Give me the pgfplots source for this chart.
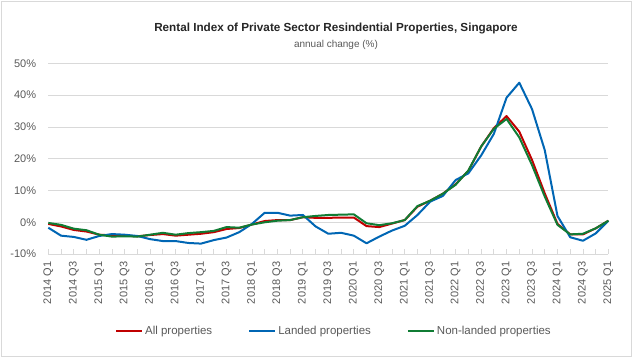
\documentclass[border=0pt]{standalone}
\usepackage{fontspec}
\setmainfont{Liberation Sans}
\usepackage{pgfplots}
\usepackage{pgfplotstable}
\pgfplotsset{compat=1.18}
\definecolor{cAll}{RGB}{192,0,0}
\definecolor{cLand}{RGB}{0,102,180}
\definecolor{cNon}{RGB}{16,124,52}
\definecolor{cGrid}{RGB}{217,217,217}
\definecolor{cText}{RGB}{89,89,89}

\pgfplotstableread{
i all landed non
0 -0.5 -1.7 -0.2
1 -1.3 -4.2 -0.8
2 -2.4 -4.6 -2.0
3 -2.9 -5.5 -2.5
4 -3.9 -4.3 -3.9
5 -4.1 -3.7 -4.5
6 -4.2 -3.9 -4.4
7 -4.4 -4.3 -4.5
8 -4.0 -5.3 -3.9
9 -3.7 -5.9 -3.3
10 -4.2 -5.9 -3.9
11 -3.9 -6.5 -3.4
12 -3.6 -6.7 -3.1
13 -3.1 -5.6 -2.7
14 -2.1 -4.8 -1.5
15 -1.8 -3.1 -1.7
16 -0.7 -0.5 -0.7
17 0.4 3.0 0.0
18 0.7 3.0 0.5
19 0.7 2.1 0.7
20 1.6 2.3 1.6
21 1.4 -1.3 2.0
22 1.4 -3.6 2.3
23 1.5 -3.3 2.4
24 1.5 -4.2 2.5
25 -1.2 -6.6 -0.3
26 -1.5 -4.5 -0.9
27 -0.4 -2.6 -0.3
28 0.7 -1.1 0.7
29 4.9 2.3 5.1
30 6.8 6.5 6.8
31 9.0 8.3 9.0
32 12.0 13.3 11.8
33 16.2 15.4 16.3
34 23.8 21.0 23.8
35 29.6 27.8 29.4
36 33.4 39.2 32.5
37 28.5 43.9 26.7
38 19.6 35.6 18.0
39 9.1 22.7 8.1
40 -0.5 2.0 -0.8
41 -3.8 -4.7 -3.8
42 -3.8 -5.8 -3.6
43 -1.9 -3.5 -1.9
44 0.5 0.5 0.5
}\rentdata

\begin{document}
\begin{tikzpicture}[x=1pt,y=1pt]
\useasboundingbox (0,0) rectangle (633,357);
\draw[cGrid, line width=0.8pt] (1,1) rectangle (631,356);
\node[font=\fontsize{11.7}{14}\selectfont\bfseries, text=black!85] at (336,328.3) {Rental Index of Private Sector Resindential Properties, Singapore};
\node[font=\fontsize{10}{12}\selectfont, text=cText] at (336,311.7) {annual change (\%)};
\begin{axis}[
  at={(48.3pt,102.9pt)}, anchor=south west,
  scale only axis, width=560.1pt, height=190.8pt,
  xmin=0, xmax=44, ymin=-10, ymax=50,
  clip=false,
  axis line style={draw=none},
  ytick={-10,0,10,20,30,40,50},
  ymajorgrids, grid style={cGrid, line width=0.8pt},
  ytick style={draw=none},
  yticklabel={\pgfmathprintnumber{\tick}\%},
  /pgf/number format/assume math mode=true,
  yticklabel style={anchor=east, inner sep=0pt, font=\fontsize{11}{12}\selectfont, text=cText},
  yticklabel shift=12pt,
  xtick={0,2,...,44},
  minor xtick={1,3,...,43},
  xtick pos=bottom,
  tick align=inside,
  major tick length=5pt, minor tick length=5pt,
  xtick style={cGrid, line width=0.8pt},
  minor tick style={cGrid, line width=0.8pt},
  xticklabels={2014 Q1,2014 Q3,2015 Q1,2015 Q3,2016 Q1,2016 Q3,2017 Q1,2017 Q3,2018 Q1,2018 Q3,2019 Q1,2019 Q3,2020 Q1,2020 Q3,2021 Q1,2021 Q3,2022 Q1,2022 Q3,2023 Q1,2023 Q3,2024 Q1,2024 Q3,2025 Q1},
  xticklabel style={rotate=90, anchor=east, inner sep=0pt, font=\fontsize{11}{12}\selectfont, text=cText},
  xticklabel shift=7.5pt,
  legend columns=3,
  legend style={at={(0.510,-0.403)}, anchor=center, draw=none, fill=none,
    font=\fontsize{11.5}{13}\selectfont, text=cText,
    /tikz/every even column/.append style={column sep=34pt}},
  legend image code/.code={\draw[#1, line width=2pt] (0pt,0pt) -- (26pt,0pt);},
  every axis plot/.append style={line width=2pt, line join=round},
]
\addplot[cAll, mark=none] table[x=i, y=all] {\rentdata};
\addlegendentry{All properties}
\addplot[cLand, mark=none] table[x=i, y=landed] {\rentdata};
\addlegendentry{Landed properties}
\addplot[cNon, mark=none] table[x=i, y=non] {\rentdata};
\addlegendentry{Non-landed properties}
\end{axis}
\end{tikzpicture}
\end{document}
